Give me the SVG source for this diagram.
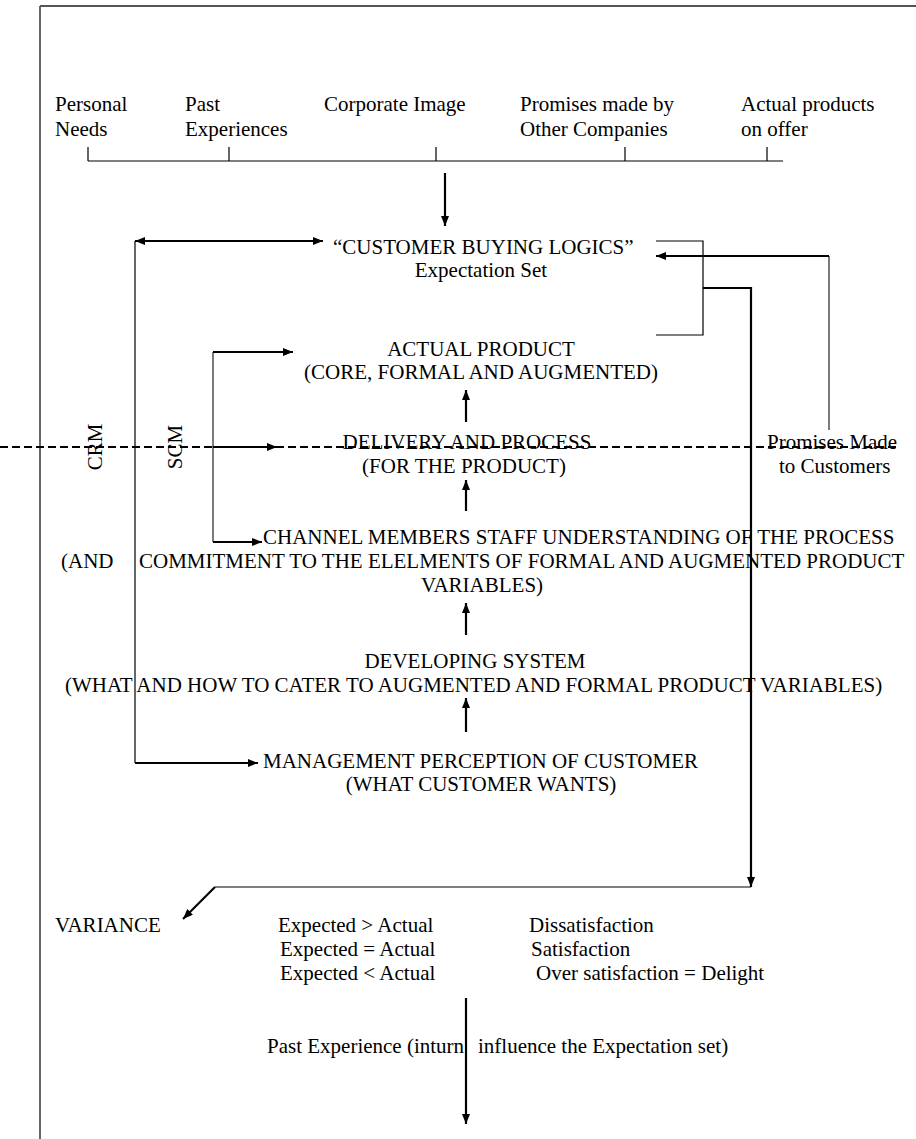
<svg xmlns="http://www.w3.org/2000/svg" width="916" height="1139" viewBox="0 0 916 1139">
<style>
text{font-family:"Liberation Serif","Times New Roman",serif;font-size:21px;fill:#000}
.m{text-anchor:middle}
.thin{fill:none;stroke:#000;stroke-width:1.2}
.gray{fill:none;stroke:#444;stroke-width:1.4}
.thick{fill:none;stroke:#000;stroke-width:2.2}
.dash{fill:none;stroke:#000;stroke-width:1.8;stroke-dasharray:8 4}
</style>
<defs>
<marker id="ah" viewBox="0 0 10 8" refX="10" refY="4" markerWidth="10" markerHeight="8" markerUnits="userSpaceOnUse" orient="auto-start-reverse"><path d="M0,0 L10,4 L0,8 z" fill="#000"/></marker>
</defs>
<rect width="916" height="1139" fill="#fff"/>
<g id="frame">
<path class="thin" d="M40,1139 V6"/>
<path d="M40,6 H916" fill="none" stroke="#555" stroke-width="2"/>
</g>
<g id="inputs">
<text x="55" y="111">Personal</text><text x="55" y="136">Needs</text>
<text x="185" y="111">Past</text><text x="185" y="136">Experiences</text>
<text x="324" y="111">Corporate Image</text>
<text x="520" y="111">Promises made by</text><text x="520" y="136">Other Companies</text>
<text x="741" y="111">Actual products</text><text x="741" y="136">on offer</text>
</g>
<g id="buying-logics">
<text x="333" y="254">“CUSTOMER BUYING LOGICS”</text>
<text class="m" x="481" y="277">Expectation Set</text>
</g>
<g id="actual-product">
<text class="m" x="481" y="356">ACTUAL PRODUCT</text>
<text class="m" x="481" y="379">(CORE, FORMAL AND AUGMENTED)</text>
</g>
<g id="delivery">
<text class="m" x="467" y="449">DELIVERY AND PROCESS</text>
<text class="m" x="464" y="473">(FOR THE PRODUCT)</text>
</g>
<g id="promises">
<text x="767" y="449">Promises Made</text>
<text x="779" y="473">to Customers</text>
</g>
<g id="crm"><text class="m" transform="translate(102,447) rotate(-90)">CRM</text></g>
<g id="scm"><text class="m" transform="translate(182,447) rotate(-90)">SCM</text></g>
<g id="channel">
<text x="263" y="544">CHANNEL MEMBERS STAFF UNDERSTANDING OF THE PROCESS</text>
<text x="61" y="568">(AND</text>
<text x="139" y="568">COMMITMENT TO THE ELELMENTS OF FORMAL AND AUGMENTED PRODUCT</text>
<text class="m" x="482" y="592">VARIABLES)</text>
</g>
<g id="developing">
<text class="m" x="475" y="668">DEVELOPING SYSTEM</text>
<text x="65" y="692">(WHAT AND HOW TO CATER TO AUGMENTED AND FORMAL PRODUCT VARIABLES)</text>
</g>
<g id="management">
<text x="263" y="768">MANAGEMENT PERCEPTION OF CUSTOMER</text>
<text class="m" x="481" y="791">(WHAT CUSTOMER WANTS)</text>
</g>
<g id="variance">
<text x="55" y="932">VARIANCE</text>
<text x="278" y="932">Expected &gt; Actual</text>
<text x="280" y="956">Expected = Actual</text>
<text x="280" y="980">Expected &lt; Actual</text>
<text x="529" y="932">Dissatisfaction</text>
<text x="531" y="956">Satisfaction</text>
<text x="536" y="980">Over satisfaction = Delight</text>
</g>
<g id="past-experience">
<text x="267" y="1053">Past Experience (inturn</text>
<text x="478" y="1053">influence the Expectation set)</text>
</g>
<g id="connectors">
<path class="thin" d="M88,161 H783 M88,147 V161 M229,147 V161 M436,147 V161 M625,147 V161 M767,147 V161"/>
<path class="thick" d="M445,173 V226" marker-end="url(#ah)"/>
<path class="thick" d="M135,241 H323" marker-start="url(#ah)" marker-end="url(#ah)"/>
<path class="thin" d="M135,241 V763"/>
<path class="thick" d="M135,763 H258" marker-end="url(#ah)"/>
<path class="gray" d="M213,352 V542"/>
<path class="thick" d="M213,352 H293" marker-end="url(#ah)"/>
<path class="thick" d="M213,447 H277" marker-end="url(#ah)"/>
<path class="thick" d="M213,542 H262" marker-end="url(#ah)"/>
<path class="thick" d="M466,422 V390" marker-end="url(#ah)"/>
<path class="thick" d="M466,511 V480" marker-end="url(#ah)"/>
<path class="thick" d="M466,635 V603" marker-end="url(#ah)"/>
<path class="thick" d="M466,732 V698" marker-end="url(#ah)"/>
<path class="thin" d="M656,241 H703 V335 H656"/>
<path class="thick" d="M703,288 H751 V887" marker-end="url(#ah)" stroke-width="1.6"/>
<path class="thin" d="M751,887 H215"/>
<path class="thick" d="M215,887 L183,919" marker-end="url(#ah)"/>
<path class="gray" d="M829,430 V256"/>
<path class="thick" d="M829,256 H656" marker-end="url(#ah)"/>
<path class="dash" d="M0,447 H900"/>
<path class="thick" d="M466,998 V1124" marker-end="url(#ah)"/>
</g>
</svg>
